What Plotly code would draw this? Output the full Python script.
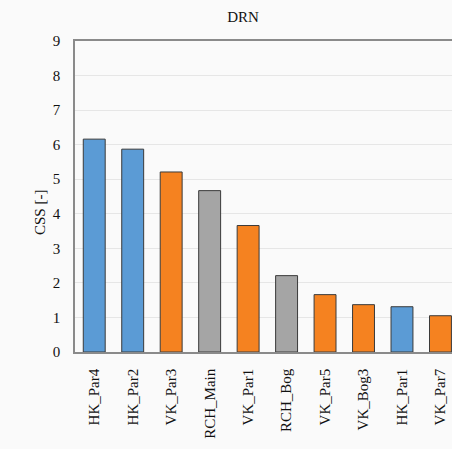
import plotly.graph_objects as go

categories = ["HK_Par4", "HK_Par2", "VK_Par3", "RCH_Main", "VK_Par1",
              "RCH_Bog", "VK_Par5", "VK_Bog3", "HK_Par1", "VK_Par7"]
css_values = [6.16, 5.87, 5.21, 4.67, 3.66, 2.21, 1.66, 1.37, 1.31, 1.05]
groups = ["HK", "HK", "VK", "RCH", "VK", "RCH", "VK", "VK", "HK", "VK"]
group_colors = {"HK": "#5B9BD5", "VK": "#F58220", "RCH": "#A5A5A5"}
y_ticks = list(range(0, 10))

colors = [group_colors[g] for g in groups]
font = "Liberation Serif, Times New Roman, serif"

W, H = 452, 449
L, R, T, B = 75, 0, 41, 97

fig = go.Figure(go.Bar(
    x=categories, y=css_values,
    marker=dict(color=colors, line=dict(color="#3A3A3A", width=1)),
    width=0.57,
))

fig.update_layout(
    width=W, height=H,
    margin=dict(l=L, r=R, t=T, b=B),
    paper_bgcolor="#FAFAFA", plot_bgcolor="#FAFAFA",
    showlegend=False,
    font=dict(family=font, size=15, color="#111111"),
    title=dict(text="DRN", x=243 / W, xanchor="center", y=1 - 17 / H,
               yanchor="middle", font=dict(family=font, size=15, color="#111111")),
    annotations=[dict(
        text="CSS [-]", textangle=-90, showarrow=False,
        xref="paper", yref="paper",
        x=(40 - L) / (W - L - R), y=(H - B - 213) / (H - T - B),
        xanchor="center", yanchor="middle",
        font=dict(family=font, size=15, color="#111111"),
    )],
)
fig.update_xaxes(
    range=[-0.5, 9.3], showline=True, linecolor="#8A8A8A", linewidth=1.5,
    mirror=True, tickangle=-90, ticks="outside", ticklen=9,
    tickcolor="rgba(0,0,0,0)", tickfont=dict(size=15),
)
fig.update_yaxes(
    range=[0, 9], tickvals=y_ticks, showline=True, linecolor="#8A8A8A",
    linewidth=1.5, showgrid=True, gridcolor="#E6E6E6", gridwidth=1,
    ticks="outside", ticklen=10, tickcolor="rgba(0,0,0,0)",
    zeroline=False, tickfont=dict(size=15),
)

fig.write_html("out.html", config={"displayModeBar": False},
               post_script="document.body.style.margin='0';")
